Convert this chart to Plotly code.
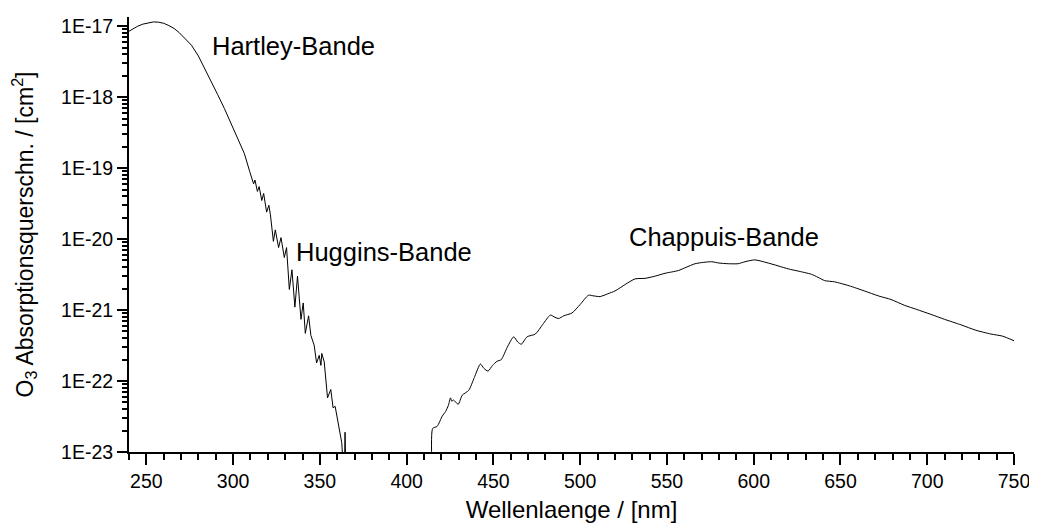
import plotly.graph_objects as go

# Hartley + Huggins bands (wavelength nm, cross-section cm^2)
wl_uv = [240.0, 242.0, 245.0, 248.0, 251.0, 254.0, 257.0, 260.0, 263.0, 266.0,
         269.0, 272.0, 276.0, 280.0, 283.5, 287.0, 291.0, 295.0, 299.0, 303.0,
         306.5, 309.6, 311.0, 311.8, 312.6, 314.0, 315.0, 316.5, 317.6, 319.3,
         320.6, 321.5, 323.2, 324.3, 326.2, 327.6, 329.5, 330.8, 332.4, 333.9,
         335.6, 337.1, 339.1, 340.4, 341.6, 343.5, 344.8, 346.7, 348.1, 349.6,
         350.6, 351.1, 352.5, 354.4, 356.3, 357.6, 358.8, 361.1, 362.6, 363.5,
         364.2, 364.5, 364.9, 365.5]
sigma_uv = [8.5e-18, 9.1e-18, 1.0e-17, 1.07e-17, 1.12e-17, 1.15e-17, 1.14e-17, 1.10e-17, 1.02e-17, 9.3e-18,
            8.1e-18, 6.9e-18, 5.4e-18, 3.8e-18, 2.6e-18, 1.74e-18, 1.1e-18, 6.9e-19, 4.2e-19, 2.5e-19,
            1.6e-19, 8.9e-20, 7.1e-20, 6.0e-20, 6.8e-20, 4.7e-20, 5.5e-20, 3.5e-20, 4.4e-20, 2.4e-20,
            3.0e-20, 2.2e-20, 9.3e-21, 1.35e-20, 7.6e-21, 1.05e-20, 5.5e-21, 7.6e-21, 1.95e-21, 3.7e-21,
            1.1e-21, 3.0e-21, 7.4e-22, 1.26e-21, 4.7e-22, 8.3e-22, 4.4e-22, 3.2e-22, 1.8e-22, 2.3e-22,
            1.66e-22, 2.45e-22, 1.86e-22, 5.8e-23, 7.6e-23, 4.2e-23, 4.4e-23, 2.2e-23, 1.35e-23, 6e-24,
            6e-24, 1.9e-23, 6e-24, 6e-24]

# Chappuis band
wl_vis = [414.6, 415.0, 417.6, 420.5, 422.4, 424.0, 425.3, 426.0, 427.0, 429.7,
          432.0, 435.8, 439.0, 442.5, 444.5, 446.9, 449.5, 452.1, 454.5, 458.0,
          461.7, 464.0, 466.1, 469.4, 474.2, 478.5, 482.8, 485.5, 487.6, 490.5,
          495.3, 500.0, 504.8, 508.0, 511.5, 516.0, 520.1, 526.0, 531.6, 537.4,
          543.0, 548.9, 556.5, 561.0, 566.2, 571.0, 575.7, 580.0, 585.3, 591.0,
          595.0, 600.6, 607.0, 614.0, 620.0, 625.5, 633.2, 637.0, 640.9, 646.6,
          655.0, 663.8, 672.0, 679.1, 686.8, 694.0, 702.1, 710.0, 719.4, 728.0,
          736.6, 743.3, 750.0]
sigma_vis = [6e-24, 2.15e-23, 2.3e-23, 3.2e-23, 3.7e-23, 4.5e-23, 5.8e-23, 5.2e-23, 5.4e-23, 4.7e-23,
             6.3e-23, 7.4e-23, 1.12e-22, 1.74e-22, 1.51e-22, 1.38e-22, 1.66e-22, 1.9e-22, 2.0e-22, 3.0e-22,
             4.2e-22, 3.55e-22, 3.3e-22, 4.2e-22, 4.6e-22, 6.3e-22, 8.5e-22, 7.9e-22, 7.6e-22, 8.3e-22,
             9.1e-22, 1.2e-21, 1.62e-21, 1.58e-21, 1.55e-21, 1.7e-21, 1.86e-21, 2.3e-21, 2.75e-21, 2.8e-21,
             3.0e-21, 3.3e-21, 3.6e-21, 4.0e-21, 4.5e-21, 4.7e-21, 4.8e-21, 4.6e-21, 4.5e-21, 4.5e-21,
             4.8e-21, 5.1e-21, 4.7e-21, 4.2e-21, 3.8e-21, 3.55e-21, 3.2e-21, 2.9e-21, 2.6e-21, 2.5e-21,
             2.2e-21, 1.86e-21, 1.58e-21, 1.41e-21, 1.17e-21, 1.02e-21, 8.7e-22, 7.4e-22, 6.2e-22, 5.2e-22,
             4.6e-22, 4.3e-22, 3.7e-22]

y_tickvals = [1e-23, 1e-22, 1e-21, 1e-20, 1e-19, 1e-18, 1e-17]
y_ticktext = ["1E-23", "1E-22", "1E-21", "1E-20", "1E-19", "1E-18", "1E-17"]
x_tickvals = [250, 300, 350, 400, 450, 500, 550, 600, 650, 700, 750]

band_labels = ["Hartley-Bande", "Huggins-Bande", "Chappuis-Bande"]

minor_y = [m * 10.0 ** e for e in range(-23, -16) for m in range(2, 10)]

FONT = "Arial, Liberation Sans, sans-serif"

fig = go.Figure()
fig.add_trace(go.Scatter(x=wl_uv, y=sigma_uv, mode="lines",
                         line=dict(color="black", width=1), showlegend=False))
fig.add_trace(go.Scatter(x=wl_vis, y=sigma_vis, mode="lines",
                         line=dict(color="black", width=1, shape="spline", smoothing=0.6),
                         showlegend=False))

ann_pos = [(0.0912, 0.934), (0.1866, 0.4608), (0.5630, 0.495)]
for txt, (ax, ay) in zip(band_labels, ann_pos):
    fig.add_annotation(text=txt, x=ax, y=ay, xref="paper", yref="paper",
                       xanchor="left", yanchor="middle", showarrow=False,
                       font=dict(size=25.5, color="black", family=FONT))

# page body has an 8px margin, so the figure is 8px smaller than the window
fig.update_layout(
    width=1029, height=518,
    margin=dict(l=121, r=20, t=7, b=64),
    paper_bgcolor="white", plot_bgcolor="white",
    font=dict(family=FONT, color="black", size=19.5),
)
fig.update_xaxes(
    range=[240, 750], tickmode="array", tickvals=x_tickvals,
    ticks="outside", ticklen=11, tickwidth=2, tickcolor="black",
    showline=True, linecolor="black", linewidth=2, showgrid=False, zeroline=False,
    minor=dict(ticks="outside", ticklen=6, tickwidth=2, tickcolor="black", dtick=10, tick0=240, showgrid=False),
    tickfont=dict(size=19.5, family=FONT),
    title=dict(text="Wellenlaenge / [nm]", font=dict(size=24, family=FONT), standoff=10),
)
fig.update_yaxes(
    type="log", range=[-23, -16.87], tickmode="array", tickvals=y_tickvals, ticktext=y_ticktext,
    ticks="outside", ticklen=10, tickwidth=2, tickcolor="black",
    showline=True, linecolor="black", linewidth=2, showgrid=False, zeroline=False,
    minor=dict(ticks="outside", ticklen=5, tickwidth=1.5, tickcolor="black", tickmode="array",
               tickvals=minor_y, showgrid=False),
    tickfont=dict(size=19.5, family=FONT),
    title=dict(text="O<sub>3</sub> Absorptionsquerschn. / [cm<sup>2</sup>]",
               font=dict(size=23, family=FONT), standoff=27),
)

fig.write_html("out.html")
